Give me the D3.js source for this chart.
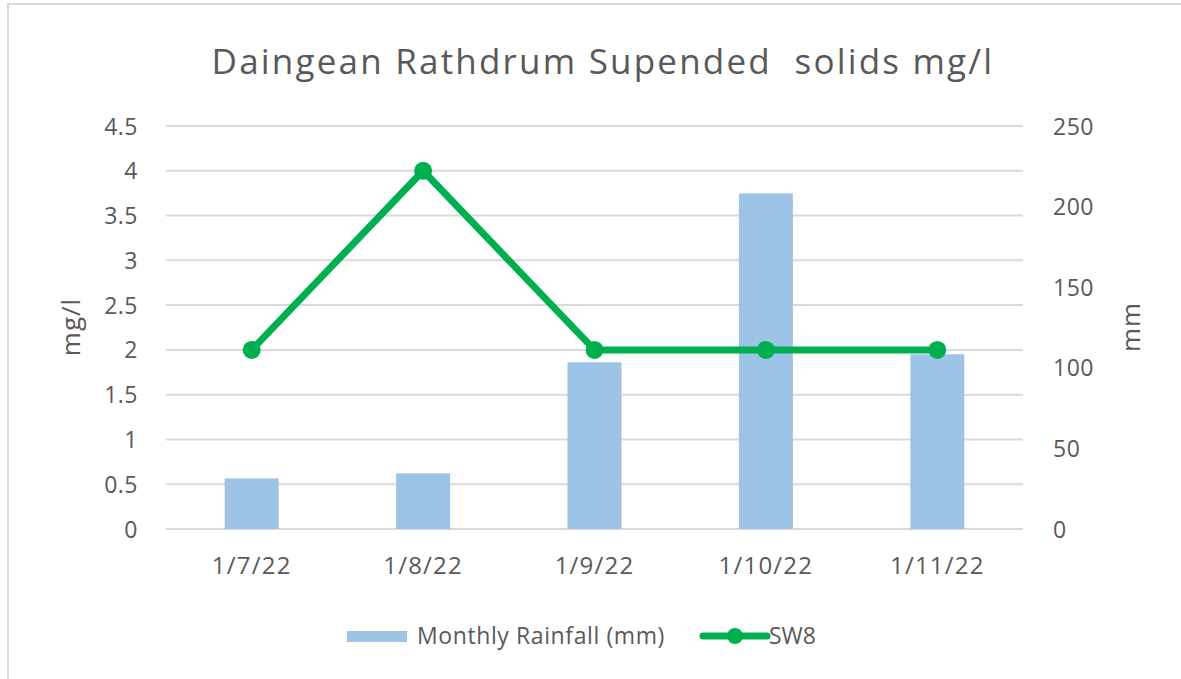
<!DOCTYPE html>
<html>
<head>
<meta charset="utf-8">
<script src="https://cdn.jsdelivr.net/npm/d3@7"></script>
<style>
  body { margin: 0; background: #fff; }
  svg text { font-family: "Open Sans", Lato, sans-serif; fill: #595959; }
</style>
</head>
<body>
<svg class="chart" width="1181" height="679"></svg>
<script>
const dates = ['1/7/22', '1/8/22', '1/9/22', '1/10/22', '1/11/22']
const rainfall = [31.4, 34.5, 103.4, 208.2, 108.4]
const sw8 = [2, 4, 2, 2, 2]
const leftTicks = [0, 0.5, 1, 1.5, 2, 2.5, 3, 3.5, 4, 4.5]
const rightTicks = [0, 50, 100, 150, 200, 250]

const svg = d3.select('svg.chart')

const plotL = 166, plotR = 1023, plotT = 126, plotB = 529
const font = '"Open Sans", Lato, sans-serif'

// light frame on top and left edge
svg.append('path')
  .attr('d', 'M8,679 V4 H1181')
  .attr('fill', 'none')
  .attr('stroke', '#d9d9d9')
  .attr('stroke-width', 2)

const x = d3.scaleBand()
  .domain(dates)
  .range([plotL, plotR])
  .paddingInner(0.685)
  .paddingOuter(0.3425)

const yLeft = d3.scaleLinear().domain([0, 4.5]).range([plotB, plotT])
const yRight = d3.scaleLinear().domain([0, 250]).range([plotB, plotT])

// gridlines
svg.append('g')
  .selectAll('line')
  .data(leftTicks)
  .enter()
  .append('line')
  .attr('x1', plotL)
  .attr('x2', plotR)
  .attr('y1', d => yLeft(d))
  .attr('y2', d => yLeft(d))
  .attr('stroke', '#d9d9d9')
  .attr('stroke-width', 2)

// left axis
const axL = svg.append('g')
  .attr('transform', `translate(${plotL - 28},0)`)
  .call(d3.axisLeft(yLeft).tickValues(leftTicks).tickSize(0).tickPadding(0).tickFormat(d => d))
axL.select('.domain').remove()
axL.selectAll('text')
  .attr('font-size', 23)
  .attr('dy', '0.35em')
  .attr('letter-spacing', 0.5)
  .style('font-family', font)
  .attr('fill', '#595959')

// right axis
const axR = svg.append('g')
  .attr('transform', `translate(${plotR + 30},0)`)
  .call(d3.axisRight(yRight).tickValues(rightTicks).tickSize(0).tickPadding(0))
axR.select('.domain').remove()
axR.selectAll('text')
  .attr('font-size', 23)
  .attr('dy', '0.35em')
  .attr('letter-spacing', 0.5)
  .style('font-family', font)
  .attr('fill', '#595959')

// x axis labels
const axX = svg.append('g')
  .attr('transform', `translate(0,${plotB + 28})`)
  .call(d3.axisBottom(x).tickSize(0).tickPadding(0))
axX.select('.domain').remove()
axX.selectAll('text')
  .attr('font-size', 24)
  .attr('dy', '0.71em')
  .attr('letter-spacing', 1.2)
  .style('font-family', font)
  .attr('fill', '#595959')

// bars
svg.append('g')
  .selectAll('rect')
  .data(rainfall)
  .enter()
  .append('rect')
  .attr('x', (d, i) => x(dates[i]))
  .attr('width', x.bandwidth())
  .attr('y', d => yRight(d))
  .attr('height', d => plotB - yRight(d))
  .attr('fill', '#9dc3e6')

// line
const cx = (d, i) => x(dates[i]) + x.bandwidth() / 2
const line = d3.line()
  .x(cx)
  .y(d => yLeft(d))

svg.append('path')
  .datum(sw8)
  .attr('d', line)
  .attr('fill', 'none')
  .attr('stroke', '#00b050')
  .attr('stroke-width', 7)
  .attr('stroke-linejoin', 'round')

svg.append('g')
  .selectAll('circle')
  .data(sw8)
  .enter()
  .append('circle')
  .attr('cx', cx)
  .attr('cy', d => yLeft(d))
  .attr('r', 9)
  .attr('fill', '#00b050')

// title
svg.append('text')
  .attr('x', 603)
  .attr('y', 74)
  .attr('text-anchor', 'middle')
  .attr('font-size', 35)
  .attr('letter-spacing', 2.2)
  .style('white-space', 'pre')
  .text('Daingean Rathdrum Supended  solids mg/l')

// axis titles
svg.append('text')
  .attr('transform', 'translate(80,327) rotate(-90)')
  .attr('text-anchor', 'middle')
  .attr('font-size', 26)
  .attr('letter-spacing', 1)
  .text('mg/l')

svg.append('text')
  .attr('transform', 'translate(1140,327) rotate(-90)')
  .attr('text-anchor', 'middle')
  .attr('font-size', 26)
  .attr('letter-spacing', 1)
  .text('mm')

// legend
const legend = svg.append('g')
legend.append('rect')
  .attr('x', 347).attr('y', 631)
  .attr('width', 60).attr('height', 11)
  .attr('fill', '#9dc3e6')
legend.append('text')
  .attr('x', 417).attr('y', 644)
  .attr('font-size', 23)
  .attr('letter-spacing', 0.6)
  .text('Monthly Rainfall (mm)')
legend.append('line')
  .attr('x1', 703).attr('x2', 767)
  .attr('y1', 636).attr('y2', 636)
  .attr('stroke', '#00b050')
  .attr('stroke-width', 7)
  .attr('stroke-linecap', 'round')
legend.append('circle')
  .attr('cx', 735).attr('cy', 636).attr('r', 8)
  .attr('fill', '#00b050')
legend.append('text')
  .attr('x', 769).attr('y', 644)
  .attr('font-size', 23)
  .text('SW8')
</script>
</body>
</html>
